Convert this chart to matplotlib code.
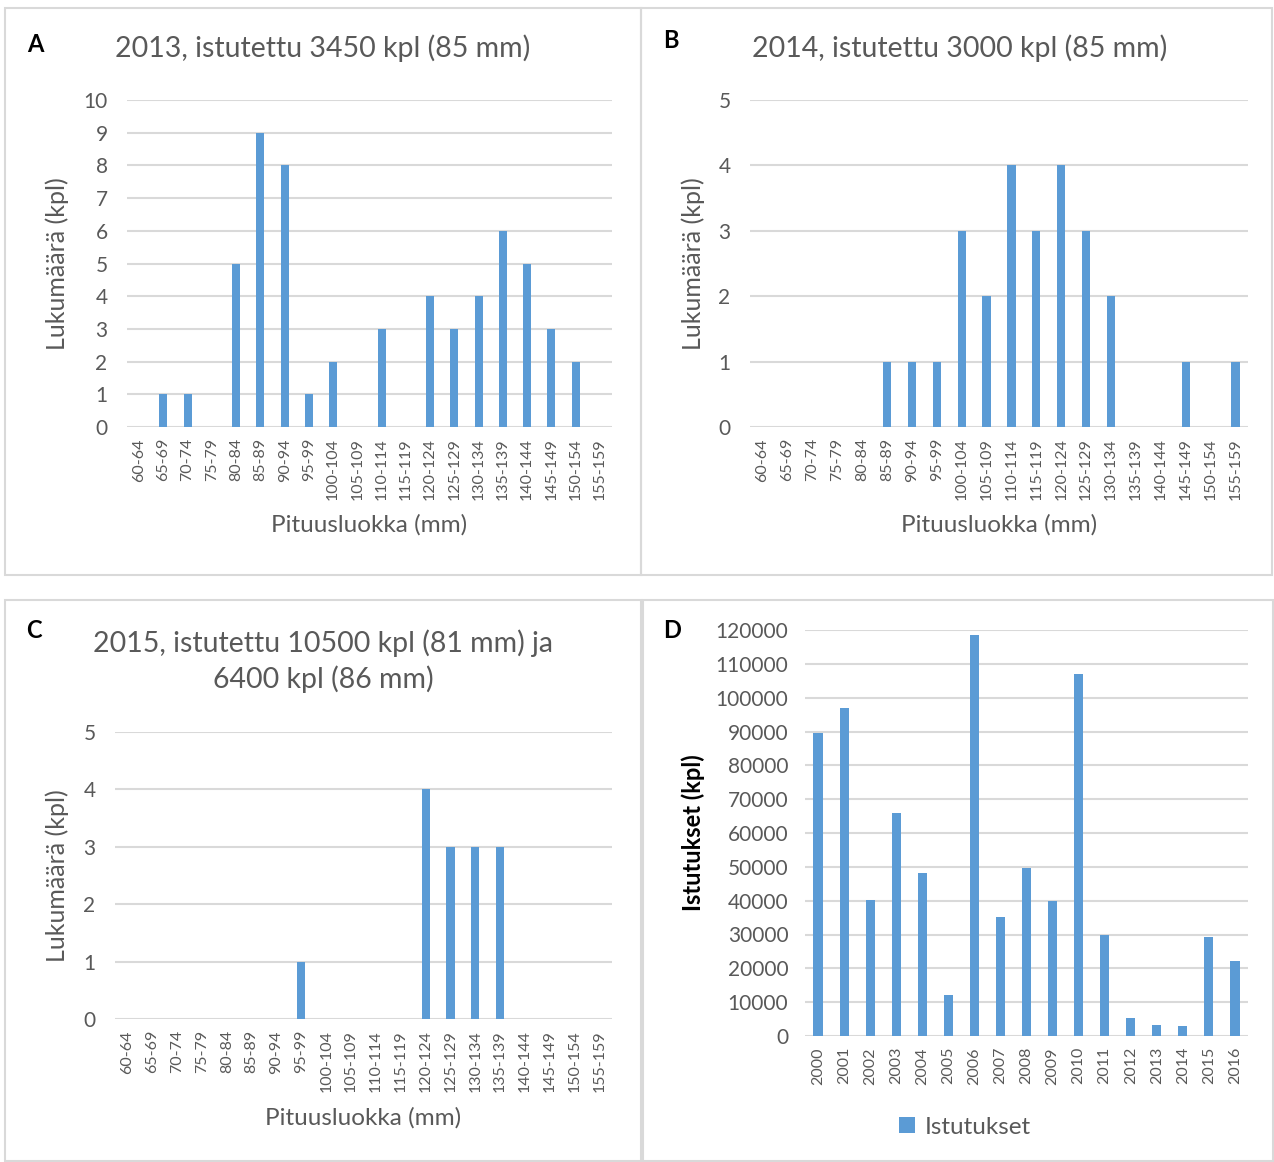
import matplotlib.pyplot as plt
from matplotlib.patches import Rectangle
import numpy as np

plt.rcParams['font.family'] = ['Lato', 'DejaVu Sans']

# pituusluokat (mm)
luokat = ['60-64', '65-69', '70-74', '75-79', '80-84', '85-89', '90-94', '95-99',
          '100-104', '105-109', '110-114', '115-119', '120-124', '125-129',
          '130-134', '135-139', '140-144', '145-149', '150-154', '155-159']
kpl_2013 = [0, 1, 1, 0, 5, 9, 8, 1, 2, 0, 3, 0, 4, 3, 4, 6, 5, 3, 2, 0]
kpl_2014 = [0, 0, 0, 0, 0, 1, 1, 1, 3, 2, 4, 3, 4, 3, 2, 0, 0, 1, 0, 1]
kpl_2015 = [0, 0, 0, 0, 0, 0, 0, 1, 0, 0, 0, 0, 4, 3, 3, 3, 0, 0, 0, 0]

# istutukset vuosittain
vuodet = [str(v) for v in range(2000, 2017)]
istutukset = [89700, 97000, 40300, 65800, 48300, 12100, 118500, 35100, 49800,
              40000, 107100, 29800, 5400, 3300, 2900, 29400, 22200]

W, H = 1274, 1162
BLUE = '#5b9bd5'
GRID = '#d9d9d9'
TXT = '#595959'

fig = plt.figure(figsize=(W / 100, H / 100), dpi=100)


def px_rect(x0, y0, x1, y1):
    return [x0 / W, 1 - y1 / H, (x1 - x0) / W, (y1 - y0) / H]


def ftext(x, y, s, **kw):
    return fig.text(x / W, 1 - y / H, s, ha='center', va='center', **kw)


# paneelien kehykset
for x0, y0, x1, y1 in [(5, 8, 641, 575), (641, 8, 1272, 575),
                       (5, 600, 641, 1161), (643, 600, 1273, 1161)]:
    fig.patches.append(Rectangle((x0 / W, 1 - y1 / H), (x1 - x0) / W, (y1 - y0) / H,
                                 transform=fig.transFigure, fill=False,
                                 edgecolor='#d9d9d9', linewidth=1.5))


def style_axes(ax, labels, ymax, step, ypad):
    x = np.arange(len(labels))
    ax.set_xlim(-0.5, len(labels) - 0.5)
    ax.set_ylim(0, ymax)
    ax.set_yticks(range(0, ymax + 1, step))
    ax.set_xticks(x)
    ax.set_xticklabels(labels, rotation=90, fontsize=11.5, color=TXT)
    ax.tick_params(axis='y', labelsize=15, labelcolor=TXT, length=0, pad=ypad)
    ax.tick_params(axis='x', length=0, pad=8)
    ax.grid(axis='y', color=GRID, linewidth=1.5, zorder=0)
    for s in ax.spines.values():
        s.set_visible(False)


def histo(rect, values, ymax, title, title_xy, letter_xy, letter, ylab_x, xlab_y):
    ax = fig.add_axes(px_rect(*rect))
    ax.bar(np.arange(len(luokat)), values, width=0.33, color=BLUE, zorder=3)
    style_axes(ax, luokat, ymax, 1, 14)
    ftext(ylab_x, (rect[1] + rect[3]) / 2, 'Lukumäärä (kpl)', rotation=90,
          fontsize=18, color=TXT)
    ftext(*title_xy, title, fontsize=20.5, color=TXT, linespacing=1.35)
    ftext(*letter_xy, letter, fontsize=17, fontweight='bold', color='black')
    ftext((rect[0] + rect[2]) / 2, xlab_y, 'Pituusluokka (mm)', fontsize=17.5, color=TXT)
    return ax


histo((127, 100, 612, 427), kpl_2013, 10, '2013, istutettu 3450 kpl (85 mm)',
      (323, 48), (35, 45), 'A', 57, 525)
histo((750, 100, 1248, 427), kpl_2014, 5, '2014, istutettu 3000 kpl (85 mm)',
      (960, 48), (671, 40), 'B', 693, 525)
histo((115, 732, 612, 1019), kpl_2015, 5,
      '2015, istutettu 10500 kpl (81 mm) ja\n6400 kpl (86 mm)',
      (323, 661), (34, 630), 'C', 57, 1118)

# D: istutukset vuosittain
axd = fig.add_axes(px_rect(805, 630, 1248, 1036))
axd.bar(np.arange(len(vuodet)), istutukset, width=0.35, color=BLUE, zorder=3,
        label='Istutukset')
style_axes(axd, vuodet, 120000, 10000, 12)
ftext(693, 833, 'Istutukset (kpl)', rotation=90, fontsize=17,
      fontweight='bold', color='black')
ftext(672, 630, 'D', fontsize=17, fontweight='bold', color='black')
axd.legend(loc='center', bbox_to_anchor=(965 / W, 1 - 1127 / H),
           bbox_transform=fig.transFigure, frameon=False, fontsize=17.5,
           handlelength=0.65, handleheight=0.65, handletextpad=0.4,
           labelcolor=TXT)

fig.savefig('out.png', dpi=100)
